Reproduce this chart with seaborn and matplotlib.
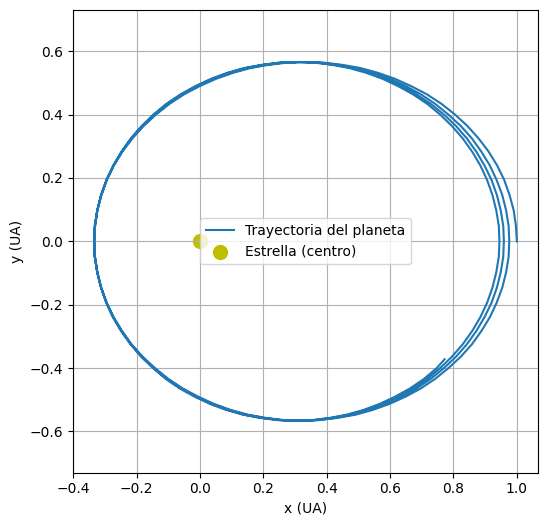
import numpy as np
import pandas as pd
import seaborn as sns
import matplotlib
matplotlib.use("Agg")
import matplotlib.pyplot as plt

# === DATOS: trayectoria (UA), por tramos de vuelta ===
# tramo 0: salida desde (1, 0) hasta el primer perihelio
x0 = [1.000, 0.997, 0.990, 0.977, 0.960, 0.938, 0.911, 0.879, 0.844, 0.805,
      0.762, 0.716, 0.666, 0.615, 0.561, 0.506, 0.449, 0.391, 0.333, 0.275,
      0.217, 0.160, 0.105, 0.051, -0.001, -0.050, -0.096, -0.139, -0.178, -0.213,
      -0.245, -0.272, -0.294, -0.311, -0.324, -0.331, -0.334]
y0 = [0.000, 0.049, 0.098, 0.146, 0.194, 0.239, 0.283, 0.325, 0.364, 0.400,
      0.434, 0.464, 0.490, 0.513, 0.532, 0.547, 0.557, 0.564, 0.566, 0.564,
      0.557, 0.547, 0.532, 0.513, 0.490, 0.464, 0.434, 0.400, 0.364, 0.325,
      0.283, 0.239, 0.194, 0.146, 0.098, 0.049, 0.000]

# tramo 1: afelio ~0.976 (mitad inferior y luego superior)
x1 = [-0.331, -0.324, -0.312, -0.294, -0.273, -0.246, -0.216, -0.181, -0.142, -0.100,
      -0.055, -0.006, 0.044, 0.097, 0.151, 0.207, 0.264, 0.321, 0.378, 0.435,
      0.491, 0.545, 0.598, 0.649, 0.697, 0.742, 0.784, 0.823, 0.858, 0.888,
      0.915, 0.936, 0.954, 0.966, 0.974, 0.976,
      0.974, 0.966, 0.954, 0.936, 0.915, 0.888, 0.858, 0.823, 0.784, 0.742,
      0.697, 0.649, 0.598, 0.545, 0.491, 0.435, 0.378, 0.321, 0.264, 0.207,
      0.151, 0.097, 0.044, -0.006, -0.055, -0.100, -0.142, -0.181, -0.216, -0.246,
      -0.273, -0.294, -0.312, -0.324, -0.331, -0.334]
y1 = [-0.049, -0.098, -0.146, -0.194, -0.239, -0.283, -0.325, -0.364, -0.400, -0.434,
      -0.464, -0.490, -0.513, -0.532, -0.547, -0.557, -0.564, -0.566, -0.564, -0.557,
      -0.547, -0.532, -0.513, -0.490, -0.464, -0.434, -0.400, -0.364, -0.325, -0.283,
      -0.239, -0.194, -0.146, -0.098, -0.049, 0.000,
      0.049, 0.098, 0.146, 0.194, 0.239, 0.283, 0.325, 0.364, 0.400, 0.434,
      0.464, 0.490, 0.513, 0.532, 0.547, 0.557, 0.564, 0.566, 0.564, 0.557,
      0.547, 0.532, 0.513, 0.490, 0.464, 0.434, 0.400, 0.364, 0.325, 0.283,
      0.239, 0.194, 0.146, 0.098, 0.049, 0.000]

# tramo 2: afelio ~0.959
x2 = [-0.332, -0.324, -0.312, -0.295, -0.273, -0.247, -0.217, -0.183, -0.145, -0.103,
      -0.058, -0.011, 0.039, 0.091, 0.145, 0.200, 0.256, 0.312, 0.369, 0.425,
      0.480, 0.534, 0.586, 0.636, 0.683, 0.728, 0.770, 0.808, 0.842, 0.872,
      0.898, 0.920, 0.937, 0.949, 0.957, 0.959,
      0.957, 0.949, 0.937, 0.920, 0.898, 0.872, 0.842, 0.808, 0.770, 0.728,
      0.683, 0.636, 0.586, 0.534, 0.480, 0.425, 0.369, 0.312, 0.256, 0.200,
      0.145, 0.091, 0.039, -0.011, -0.058, -0.103, -0.145, -0.183, -0.217, -0.247,
      -0.273, -0.295, -0.312, -0.324, -0.332, -0.334]
y2 = [-0.049, -0.098, -0.146, -0.194, -0.239, -0.283, -0.325, -0.364, -0.400, -0.434,
      -0.464, -0.490, -0.513, -0.532, -0.547, -0.557, -0.564, -0.566, -0.564, -0.557,
      -0.547, -0.532, -0.513, -0.490, -0.464, -0.434, -0.400, -0.364, -0.325, -0.283,
      -0.239, -0.194, -0.146, -0.098, -0.049, 0.000,
      0.049, 0.098, 0.146, 0.194, 0.239, 0.283, 0.325, 0.364, 0.400, 0.434,
      0.464, 0.490, 0.513, 0.532, 0.547, 0.557, 0.564, 0.566, 0.564, 0.557,
      0.547, 0.532, 0.513, 0.490, 0.464, 0.434, 0.400, 0.364, 0.325, 0.283,
      0.239, 0.194, 0.146, 0.098, 0.049, 0.000]

# tramo 3: afelio ~0.945
x3 = [-0.332, -0.324, -0.312, -0.295, -0.274, -0.248, -0.218, -0.184, -0.147, -0.106,
      -0.061, -0.014, 0.035, 0.087, 0.140, 0.194, 0.250, 0.306, 0.361, 0.417,
      0.471, 0.524, 0.576, 0.625, 0.672, 0.717, 0.758, 0.795, 0.829, 0.859,
      0.885, 0.906, 0.923, 0.935, 0.943, 0.945,
      0.943, 0.935, 0.923, 0.906, 0.885, 0.859, 0.829, 0.795, 0.758, 0.717,
      0.672, 0.625, 0.576, 0.524, 0.471, 0.417, 0.361, 0.306, 0.250, 0.194,
      0.140, 0.087, 0.035, -0.014, -0.061, -0.106, -0.147, -0.184, -0.218, -0.248,
      -0.274, -0.295, -0.312, -0.324, -0.332, -0.334]
y3 = [-0.049, -0.098, -0.146, -0.194, -0.239, -0.283, -0.325, -0.364, -0.400, -0.434,
      -0.464, -0.490, -0.513, -0.532, -0.547, -0.557, -0.564, -0.566, -0.564, -0.557,
      -0.547, -0.532, -0.513, -0.490, -0.464, -0.434, -0.400, -0.364, -0.325, -0.283,
      -0.239, -0.194, -0.146, -0.098, -0.049, 0.000,
      0.049, 0.098, 0.146, 0.194, 0.239, 0.283, 0.325, 0.364, 0.400, 0.434,
      0.464, 0.490, 0.513, 0.532, 0.547, 0.557, 0.564, 0.566, 0.564, 0.557,
      0.547, 0.532, 0.513, 0.490, 0.464, 0.434, 0.400, 0.364, 0.325, 0.283,
      0.239, 0.194, 0.146, 0.098, 0.049, 0.000]

# tramo 4: última vuelta incompleta (termina en ~(0.77, -0.37))
x4 = [-0.332, -0.324, -0.312, -0.296, -0.275, -0.249, -0.219, -0.186, -0.148, -0.108,
      -0.064, -0.017, 0.032, 0.083, 0.136, 0.189, 0.244, 0.300, 0.355, 0.410,
      0.463, 0.516, 0.567, 0.616, 0.663, 0.707, 0.747, 0.772]
y4 = [-0.049, -0.098, -0.146, -0.194, -0.239, -0.283, -0.325, -0.364, -0.400, -0.434,
      -0.464, -0.490, -0.513, -0.532, -0.547, -0.557, -0.564, -0.566, -0.564, -0.557,
      -0.547, -0.532, -0.513, -0.490, -0.464, -0.434, -0.400, -0.372]

# estrella en el centro
estrella_x = [0.0]
estrella_y = [0.0]

# une los tramos en una sola tabla (el orden de los puntos importa)
df = pd.DataFrame({
    "x": x0 + x1 + x2 + x3 + x4,
    "y": y0 + y1 + y2 + y3 + y4,
})

# === GRÁFICO ===
fig, ax = plt.subplots(figsize=(5.47, 5.25), dpi=100)
fig.subplots_adjust(left=73 / 547, right=538 / 547, bottom=1 - 472.7 / 525, top=1 - 10 / 525)

sns.lineplot(data=df, x="x", y="y", sort=False, estimator=None,
             color="tab:blue", linewidth=1.5, label="Trayectoria del planeta", ax=ax)
sns.scatterplot(x=estrella_x, y=estrella_y, color="y", s=100, linewidth=1,
                edgecolor="y", label="Estrella (centro)", ax=ax)

ax.set_xlabel("x (UA)")
ax.set_ylabel("y (UA)")
ax.axis("equal")
ax.grid(True)
ax.legend(loc="center")

fig.savefig("out.png", dpi=100)
